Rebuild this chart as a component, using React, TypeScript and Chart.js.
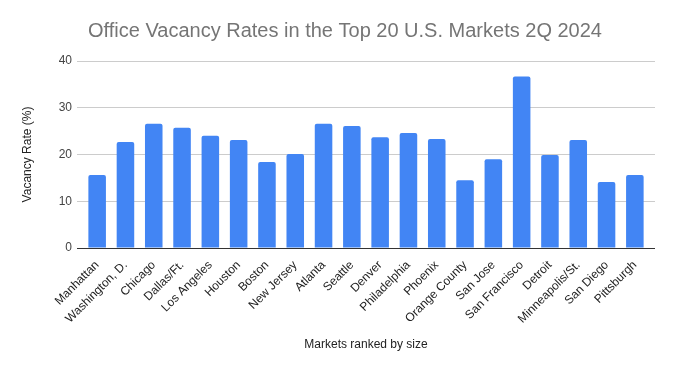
import React, { useEffect, useRef } from "react";
import { Chart, registerables } from "chart.js";

Chart.register(...registerables);

const markets = [
  "Manhattan", "Washington, D.", "Chicago", "Dallas/Ft.", "Los Angeles", "Houston",
  "Boston", "New Jersey", "Atlanta", "Seattle", "Denver", "Philadelphia", "Phoenix",
  "Orange County", "San Jose", "San Francisco", "Detroit", "Minneapolis/St.",
  "San Diego", "Pittsburgh",
];
const vacancyRates = [
  15.6, 22.7, 26.6, 25.7, 24.0, 23.1, 18.4, 20.1, 26.6, 26.1,
  23.7, 24.6, 23.3, 14.5, 19.0, 36.7, 19.9, 23.1, 14.1, 15.6,
];
const yMin = 0;
const yMax = 40;
const yStep = 10;
const titleText = "Office Vacancy Rates in the Top 20 U.S. Markets 2Q 2024";
const yTitle = "Vacancy Rate (%)";
const xTitle = "Markets ranked by size";

const FONT = "'Liberation Sans', Arial, sans-serif";

const titlePlugin = {
  id: "customTitle",
  afterDraw(chart: any) {
    const ctx = chart.ctx;
    ctx.save();
    ctx.font = `20px ${FONT}`;
    ctx.fillStyle = "#757575";
    ctx.textAlign = "center";
    ctx.textBaseline = "middle";
    ctx.fillText(titleText, 345, 31);
    ctx.restore();
  },
};

const gridColor = (c: any) => (c.tick && c.tick.value === 0 ? "#333333" : "#cccccc");

export default function App() {
  const ref = useRef<HTMLCanvasElement>(null);
  useEffect(() => {
    document.body.style.margin = "0";
    const chart = new Chart(ref.current!, {
      type: "bar",
      data: {
        labels: markets,
        datasets: [
          {
            data: vacancyRates,
            backgroundColor: "#4285f4",
            borderRadius: 2,
            borderSkipped: "bottom",
            categoryPercentage: 1,
            barPercentage: 0.62,
            yAxisID: "y",
          },
        ],
      },
      plugins: [titlePlugin],
      options: {
        animation: false,
        responsive: false,
        layout: { padding: { left: 0, right: 18, top: 61, bottom: 0 } },
        plugins: {
          legend: { display: false },
          tooltip: { enabled: false },
          title: { display: false },
        },
        scales: {
          x: {
            grid: { display: false },
            border: { display: false },
            afterFit: (s: any) => { s.height = 123; },
            ticks: {
              color: "#222",
              font: { family: FONT, size: 12 },
              minRotation: 45,
              maxRotation: 45,
              autoSkip: false,
              padding: 2,
            },
            title: {
              display: true,
              text: xTitle,
              color: "#222",
              font: { family: FONT, size: 12 },
              padding: { top: 0, bottom: 19 },
            },
          },
          y: {
            min: yMin,
            max: yMax,
            afterFit: (s: any) => { s.width = 83; },
            ticks: {
              stepSize: yStep,
              color: "#444",
              font: { family: FONT, size: 12 },
              padding: 5,
            },
            grid: { color: gridColor, drawTicks: true, tickLength: 6 },
            border: { display: false },
            title: {
              display: true,
              text: yTitle,
              color: "#222",
              font: { family: FONT, size: 12 },
              padding: { top: 20, bottom: 0 },
            },
          },
          y2: {
            position: "right",
            min: yMin,
            max: yMax,
            ticks: { stepSize: yStep, display: false },
            grid: { color: gridColor, drawTicks: true, tickLength: 6, drawOnChartArea: false },
            border: { display: false },
          },
        },
      },
    });
    return () => chart.destroy();
  }, []);
  return (
    <div style={{ width: 673, height: 371 }}>
      <canvas ref={ref} width={673} height={371} />
    </div>
  );
}
